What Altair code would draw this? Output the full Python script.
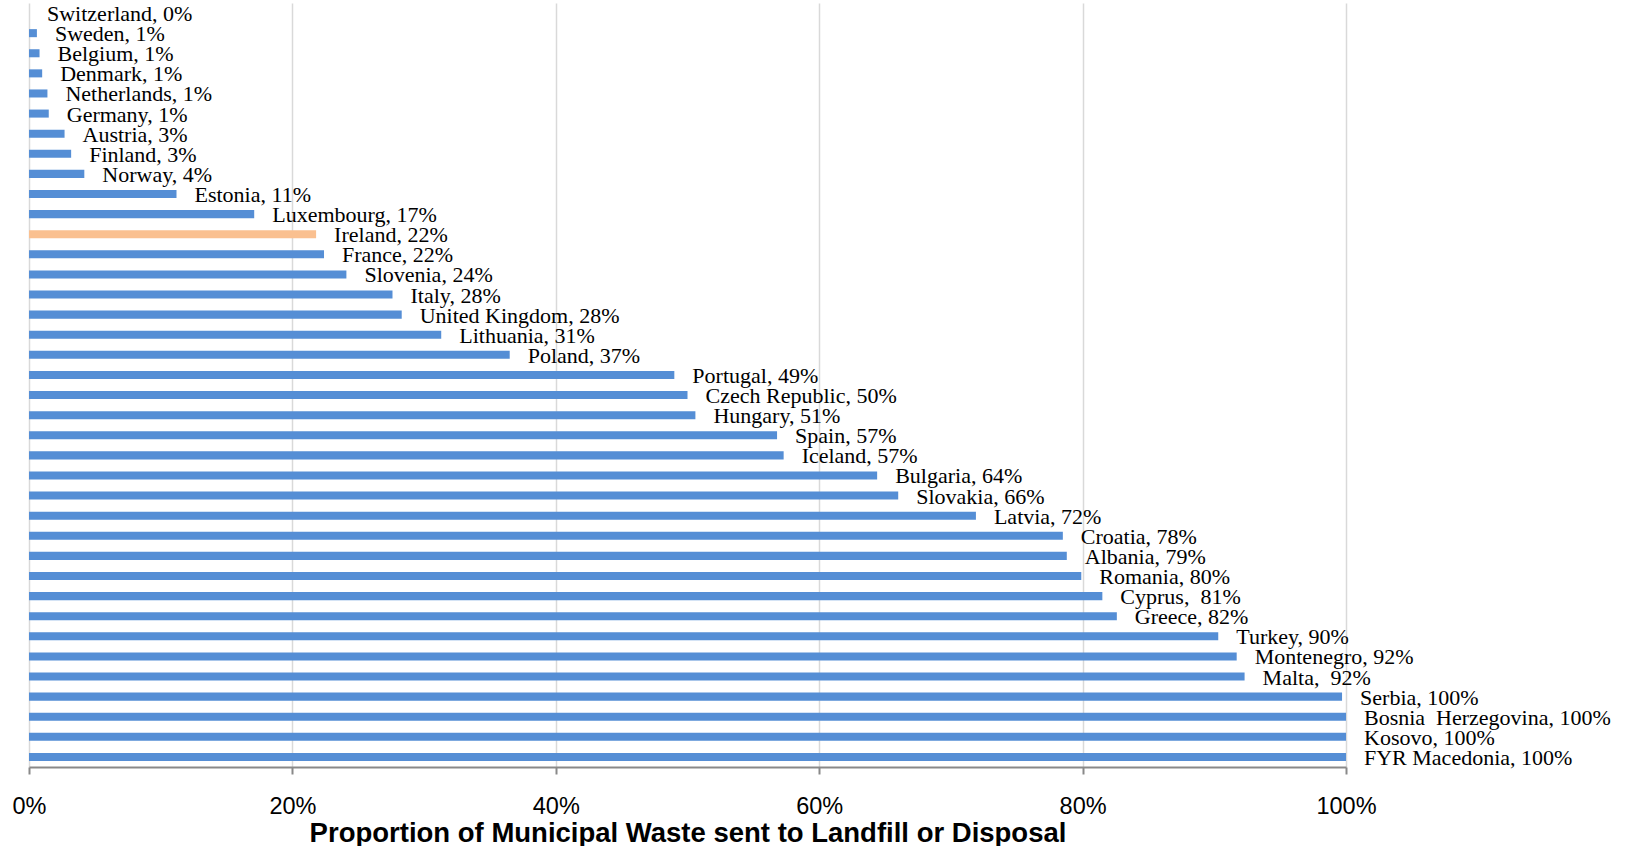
import altair as alt
import pandas as pd

countries = ["Switzerland", "Sweden", "Belgium", "Denmark", "Netherlands", "Germany", "Austria",
             "Finland", "Norway", "Estonia", "Luxembourg", "Ireland", "France", "Slovenia", "Italy",
             "United Kingdom", "Lithuania", "Poland", "Portugal", "Czech Republic", "Hungary", "Spain",
             "Iceland", "Bulgaria", "Slovakia", "Latvia", "Croatia", "Albania", "Romania", "Cyprus",
             "Greece", "Turkey", "Montenegro", "Malta", "Serbia", "Bosnia\u00a0 Herzegovina", "Kosovo",
             "FYR Macedonia"]
values = [0.0, 0.6, 0.8, 1.0, 1.4, 1.5, 2.7, 3.2, 4.2, 11.2, 17.1, 21.8, 22.4, 24.1, 27.6,
          28.3, 31.3, 36.5, 49.0, 50.0, 50.6, 56.8, 57.3, 64.4, 66.0, 71.9, 78.5, 78.8, 79.9, 81.5,
          82.6, 90.3, 91.7, 92.3, 99.7, 100.0, 100.0, 100.0]
label_pct = ["0%", "1%", "1%", "1%", "1%", "1%", "3%", "3%", "4%", "11%", "17%", "22%", "22%",
             "24%", "28%", "28%", "31%", "37%", "49%", "50%", "51%", "57%", "57%", "64%", "66%",
             "72%", "78%", "79%", "80%", "\u00a081%", "82%", "90%", "92%", "\u00a092%", "100%", "100%",
             "100%", "100%"]
groups = ["Ireland" if c == "Ireland" else "Other" for c in countries]
x_ticks = [0, 20, 40, 60, 80, 100]

df = pd.DataFrame({
    "country": countries,
    "value": values,
    "label": [f"{c}, {p}" for c, p in zip(countries, label_pct)],
    "group": groups,
})

y_enc = alt.Y("country:N", sort=countries, axis=None,
              scale=alt.Scale(paddingInner=0.6, paddingOuter=0.3))
x_enc = alt.X("value:Q",
              scale=alt.Scale(domain=[0, 100], nice=False, zero=True),
              axis=alt.Axis(values=x_ticks, labelExpr="datum.value + '%'",
                            title="Proportion of Municipal Waste sent to Landfill or Disposal",
                            grid=True, gridColor="#D9D9D9", gridWidth=1.5,
                            domainColor="#898989", domainWidth=2,
                            tickColor="#898989", tickWidth=2, tickSize=7,
                            labelFont="Liberation Sans", labelFontSize=23.5, labelColor="black",
                            labelPadding=20, labelFlush=False,
                            titleFont="Liberation Sans", titleFontSize=27.5, titleFontWeight="bold",
                            titleColor="black", titleY=52, titleBaseline="top"))

base = alt.Chart(df)
bars = base.mark_bar().encode(
    y=y_enc,
    x=x_enc,
    color=alt.Color("group:N", scale=alt.Scale(domain=["Other", "Ireland"],
                                               range=["#558ED5", "#FAC090"]), legend=None),
)
texts = base.mark_text(align="left", baseline="middle", dx=18, dy=1,
                       font="Liberation Serif", fontSize=22, color="black").encode(
    y=alt.Y("country:N", sort=countries, axis=None),
    x=alt.X("value:Q"),
    text="label:N",
)

chart = alt.layer(bars, texts).properties(
    width=1317, height=764,
    background="white",
    autosize=alt.AutoSizeParams(type="none"),
    padding={"left": 29, "top": 3, "right": 280, "bottom": 79},
).configure_view(stroke=None)

chart.save("out.html", embed_options={"renderer": "svg", "actions": False})
